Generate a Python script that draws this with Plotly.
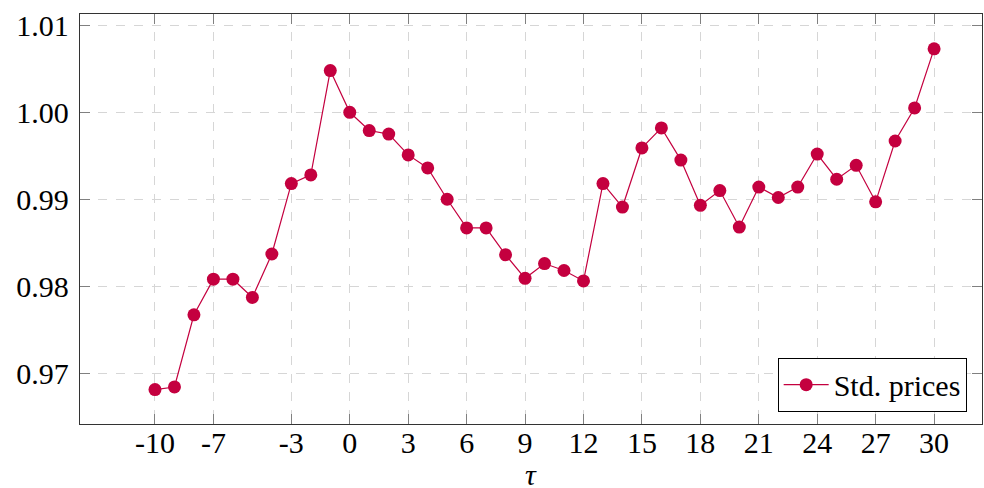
import plotly.graph_objects as go

tau = list(range(-10, 31))
prices = [0.9681, 0.9684, 0.9767, 0.9808, 0.9808, 0.9787, 0.9837, 0.9918, 0.9928, 1.0048,
          1.0000, 0.9979, 0.9975, 0.9951, 0.9936, 0.9900, 0.9867, 0.9867, 0.9836, 0.9809,
          0.9826, 0.9818, 0.9806, 0.9918, 0.9891, 0.9959, 0.9982, 0.9945, 0.9893, 0.9910,
          0.9868, 0.9914, 0.9902, 0.9914, 0.9952, 0.9923, 0.9939, 0.9897, 0.9967, 1.0005,
          1.0073]

x_tickvals = [-10, -7, -3, 0, 3, 6, 9, 12, 15, 18, 21, 24, 27, 30]
x_ticktext = ["-10", "-7", "-3", "0", "3", "6", "9", "12", "15", "18", "21", "24", "27", "30"]
y_tickvals = [0.97, 0.98, 0.99, 1.00, 1.01]
y_ticktext = ["0.97", "0.98", "0.99", "1.00", "1.01"]

color = "#C4003F"
font_family = "Liberation Serif"

fig = go.Figure()
fig.add_trace(go.Scatter(
    x=tau, y=prices, mode="lines+markers", name="Std. prices",
    line=dict(color=color, width=1.2),
    marker=dict(color=color, size=13, symbol="circle"),
))

axis_common = dict(
    showline=True, linecolor="#333333", linewidth=1.3, mirror="ticks",
    ticks="inside", ticklen=10, tickcolor="#808080", tickwidth=1.3,
    showgrid=True, gridcolor="#d6d6d6", griddash="dash", gridwidth=1,
    zeroline=False, automargin=False,
    tickfont=dict(family=font_family, size=30, color="black"),
)

fig.update_xaxes(
    range=[-13.85, 32.46], tickmode="array", tickvals=x_tickvals, ticktext=x_ticktext,
    ticklabelstandoff=-8,
    **axis_common,
)
fig.update_yaxes(
    range=[0.96414, 1.01131], tickmode="array", tickvals=y_tickvals, ticktext=y_ticktext,
    ticklabelstandoff=4,
    **axis_common,
)

fig.add_annotation(
    text="<i>τ</i>", xref="paper", yref="paper", x=0.5, y=-0.122,
    xanchor="center", yanchor="middle", showarrow=False,
    font=dict(family=font_family, size=30, color="black"),
)

fig.update_layout(
    width=984, height=488,
    margin=dict(l=80, r=2, t=14, b=64, autoexpand=False),
    paper_bgcolor="white", plot_bgcolor="white",
    font=dict(family=font_family, size=30, color="black"),
    showlegend=True,
    legend=dict(
        x=0.983, y=0.03, xanchor="right", yanchor="bottom",
        bordercolor="black", borderwidth=1, bgcolor="white",
        font=dict(family=font_family, size=30, color="black"),
        itemwidth=45, tracegroupgap=0,
    ),
)

fig.write_html("out.html", config={"displayModeBar": False},
               post_script="document.body.style.margin='0';document.body.style.overflow='hidden';")
